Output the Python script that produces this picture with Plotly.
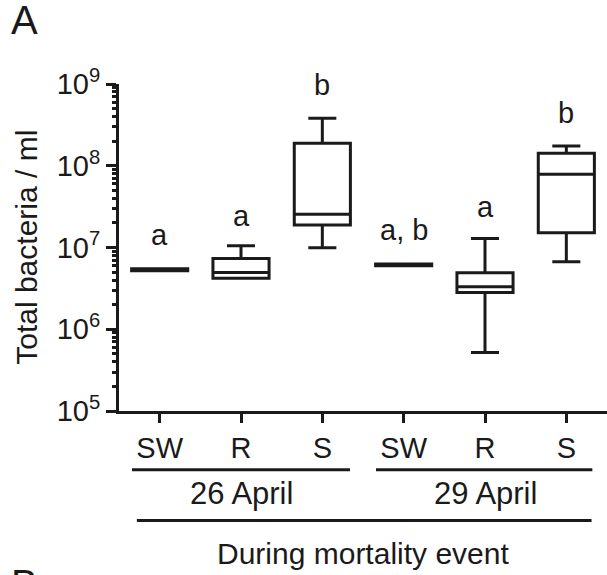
import plotly.graph_objects as go

# Data
positions = [0, 1, 2, 3, 4, 5]
tick_labels = ["SW", "R", "S", "SW", "R", "S"]
lower_whisker = [5.2e6, 4.2e6, 9.9e6, 6.0e6, 5.2e5, 6.7e6]
q1_vals = [5.2e6, 4.2e6, 1.88e7, 6.0e6, 2.82e6, 1.51e7]
median_vals = [5.35e6, 4.96e6, 2.56e7, 6.15e6, 3.3e6, 7.85e7]
q3_vals = [5.5e6, 7.35e6, 1.88e8, 6.3e6, 4.9e6, 1.42e8]
upper_whisker = [5.5e6, 1.05e7, 3.8e8, 6.3e6, 1.29e7, 1.74e8]
sig_letters = ["a", "a", "b", "a, b", "a", "b"]
letter_log_y = [7.15, 7.39, 8.99, 7.21, 7.50, 8.64]
y_exponents = [5, 6, 7, 8, 9]
group_labels = ["26 April", "29 April"]
group_centers = [1, 4]
event_label = "During mortality event"

INK = "#1a1a1a"
FONT = "Liberation Sans, Arial, sans-serif"

y_tickvals = [10 ** e for e in y_exponents]
y_ticktext = ["10<sup>%d</sup>" % e for e in y_exponents]
minor_vals = [m * 10 ** e for e in y_exponents[:-1] for m in range(2, 10)]

fig = go.Figure()
fig.add_trace(go.Box(
    x=positions,
    q1=q1_vals, median=median_vals, q3=q3_vals,
    lowerfence=lower_whisker, upperfence=upper_whisker,
    width=0.69, whiskerwidth=0.5,
    line=dict(color=INK, width=3),
    fillcolor="rgba(255,255,255,0)",
    boxpoints=False, showlegend=False, hoverinfo="skip",
))
# invisible trace for minor-tick axis
fig.add_trace(go.Scatter(x=[None], y=[None], yaxis="y2", showlegend=False, hoverinfo="skip"))

ann = []
for xp, t, ly in zip(positions, sig_letters, letter_log_y):
    ann.append(dict(x=xp, y=ly, xref="x", yref="y", text=t, showarrow=False,
                    font=dict(size=29, color=INK, family=FONT),
                    xanchor="center", yanchor="middle"))
for xc, lab in zip(group_centers, group_labels):
    ann.append(dict(x=xc, y=-0.252, xref="x", yref="paper", text=lab, showarrow=False,
                    font=dict(size=31, color=INK, family=FONT),
                    xanchor="center", yanchor="middle"))
ann.append(dict(x=2.5, y=-0.437, xref="x", yref="paper", text=event_label, showarrow=False,
                font=dict(size=30, color=INK, family=FONT),
                xanchor="center", yanchor="middle"))
ann.append(dict(x=-0.19, y=0.5, xref="paper", yref="paper", text="Total bacteria / ml",
                textangle=-90, showarrow=False,
                font=dict(size=30, color=INK, family=FONT),
                xanchor="center", yanchor="middle"))
ann.append(dict(x=-0.226, y=1.27, xref="paper", yref="paper", text="A", showarrow=False,
                font=dict(size=40, color=INK, family=FONT),
                xanchor="left", yanchor="top"))
ann.append(dict(x=-0.226, y=-0.455, xref="paper", yref="paper", text="B", showarrow=False,
                font=dict(size=40, color=INK, family=FONT),
                xanchor="left", yanchor="top"))

shapes = [
    dict(type="line", xref="x", yref="paper", x0=-0.34, x1=2.34, y0=-0.18, y1=-0.18,
         line=dict(color=INK, width=3)),
    dict(type="line", xref="x", yref="paper", x0=2.66, x1=5.32, y0=-0.18, y1=-0.18,
         line=dict(color=INK, width=3)),
    dict(type="line", xref="x", yref="paper", x0=-0.28, x1=5.31, y0=-0.335, y1=-0.335,
         line=dict(color=INK, width=3)),
]

fig.update_layout(
    width=607, height=575,
    margin=dict(l=119, r=0, t=84, b=164, autoexpand=False),
    paper_bgcolor="white", plot_bgcolor="white",
    font=dict(family=FONT, color=INK, size=29),
    annotations=ann, shapes=shapes,
    xaxis=dict(
        range=[-0.5, 5.5], tickmode="array", tickvals=positions, ticktext=tick_labels,
        showline=True, linecolor=INK, linewidth=3, ticks="outside", ticklen=9,
        tickwidth=3, tickcolor=INK, showgrid=False, zeroline=False, automargin=False,
        tickfont=dict(size=29, color=INK, family=FONT),
    ),
    yaxis=dict(
        type="log", range=[5, 9], tickmode="array",
        tickvals=y_tickvals, ticktext=y_ticktext,
        showline=True, linecolor=INK, linewidth=3, ticks="outside", ticklen=10,
        tickwidth=3, tickcolor=INK, showgrid=False, zeroline=False, automargin=False,
        tickfont=dict(size=29, color=INK, family=FONT),
    ),
    yaxis2=dict(
        type="log", range=[5, 9], overlaying="y", side="left", anchor="x",
        tickmode="array", tickvals=minor_vals, showticklabels=False,
        ticks="outside", ticklen=6, tickwidth=2.5, tickcolor=INK,
        showline=False, showgrid=False, zeroline=False, automargin=False,
    ),
)

fig.write_html("out.html", config={"displayModeBar": False},
               post_script="document.body.style.margin='0';document.body.style.padding='0';")
